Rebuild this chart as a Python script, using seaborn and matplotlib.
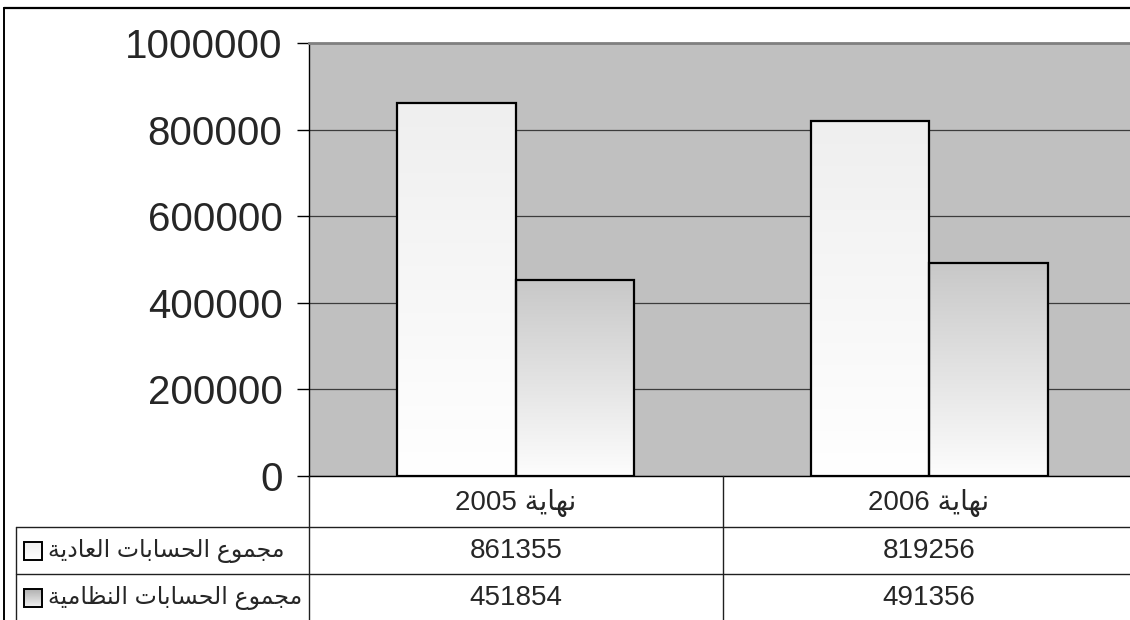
"""Grouped bar chart of account totals with a data table underneath (Arabic labels)."""

import matplotlib.pyplot as plt
import numpy as np
import pandas as pd
import seaborn as sns
from matplotlib.colors import LinearSegmentedColormap
from matplotlib.lines import Line2D
from matplotlib.patches import Rectangle

PERIODS = ["نهاية 2005", "نهاية 2006"]
SERIES = ["مجموع الحسابات العادية", "مجموع الحسابات النظامية"]
REGULAR_TOTALS = [861355, 819256]
SYSTEM_TOTALS = [451854, 491356]
Y_TICKS = [0, 200000, 400000, 600000, 800000, 1000000]

# top colour, bottom colour of the vertical gradient for each series
GRADIENTS = [("#efefef", "#ffffff"), ("#c8c8c8", "#fdfdfd")]

# Arabic presentation forms: isolated, final, initial, medial
FORMS = {
    "ا": ("\uFE8D", "\uFE8E", None, None),
    "ب": ("\uFE8F", "\uFE90", "\uFE91", "\uFE92"),
    "ة": ("\uFE93", "\uFE94", None, None),
    "ت": ("\uFE95", "\uFE96", "\uFE97", "\uFE98"),
    "ج": ("\uFE9D", "\uFE9E", "\uFE9F", "\uFEA0"),
    "ح": ("\uFEA1", "\uFEA2", "\uFEA3", "\uFEA4"),
    "د": ("\uFEA9", "\uFEAA", None, None),
    "س": ("\uFEB1", "\uFEB2", "\uFEB3", "\uFEB4"),
    "ظ": ("\uFEC5", "\uFEC6", "\uFEC7", "\uFEC8"),
    "ع": ("\uFEC9", "\uFECA", "\uFECB", "\uFECC"),
    "ل": ("\uFEDD", "\uFEDE", "\uFEDF", "\uFEE0"),
    "م": ("\uFEE1", "\uFEE2", "\uFEE3", "\uFEE4"),
    "ن": ("\uFEE5", "\uFEE6", "\uFEE7", "\uFEE8"),
    "ه": ("\uFEE9", "\uFEEA", "\uFEEB", "\uFEEC"),
    "و": ("\uFEED", "\uFEEE", None, None),
    "ي": ("\uFEF1", "\uFEF2", "\uFEF3", "\uFEF4"),
}


def shape_word(word: str) -> str:
    out = []
    for i, ch in enumerate(word):
        if ch not in FORMS:
            out.append(ch)
            continue
        prev = word[i - 1] if i > 0 else None
        nxt = word[i + 1] if i + 1 < len(word) else None
        join_prev = prev in FORMS and FORMS[prev][2] is not None
        join_next = nxt in FORMS and FORMS[ch][2] is not None
        iso, fin, ini, med = FORMS[ch]
        if join_prev and join_next:
            out.append(med)
        elif join_prev:
            out.append(fin)
        elif join_next:
            out.append(ini)
        else:
            out.append(iso)
    return "".join(out)


def rtl(text: str) -> str:
    # matplotlib has no bidi/shaping, so lay the words out in visual order by hand
    words = []
    for word in reversed(text.split(" ")):
        if any(ch in FORMS for ch in word):
            words.append(shape_word(word)[::-1])
        else:
            words.append(word)
    return " ".join(words)


def gradient(axis, extent, top, bottom, clip=None, zorder=1.5):
    cmap = LinearSegmentedColormap.from_list("grad", [bottom, top])
    image = axis.imshow(
        np.linspace(0, 1, 256).reshape(-1, 1), cmap=cmap, aspect="auto",
        extent=extent, origin="lower", zorder=zorder, interpolation="bicubic",
    )
    if clip is not None:
        image.set_clip_path(clip)
    return image


sns.set_style("ticks")
plt.rcParams["font.family"] = ["Liberation Sans", "DejaVu Sans"]

W, H = 1130, 620
fig = plt.figure(figsize=(W / 100, H / 100), dpi=100)
fig.patch.set_facecolor("white")

ax = fig.add_axes([309 / W, (H - 476) / H, 827 / W, 433 / H])
table = pd.DataFrame({
    "period": PERIODS * 2,
    "series": [SERIES[0]] * 2 + [SERIES[1]] * 2,
    "value": REGULAR_TOTALS + SYSTEM_TOTALS,
})
sns.barplot(
    data=table, x="period", y="value", hue="series", hue_order=SERIES,
    width=0.572, gap=0, palette=["white", "white"], edgecolor="black",
    linewidth=1.6, legend=False, ax=ax,
)

for container, (top, bottom) in zip(ax.containers, GRADIENTS):
    for bar in container.patches:
        x0, y0 = bar.get_x(), bar.get_y()
        x1, y1 = x0 + bar.get_width(), y0 + bar.get_height()
        gradient(ax, [x0, x1, y0, y1], top, bottom, clip=bar)
        bar.set_facecolor("none")
        bar.set_zorder(2)

ax.set_xlim(-0.5, 1.5)
ax.set_ylim(0, 1000000)
ax.set_facecolor("#c0c0c0")
ax.set_axisbelow(True)
ax.yaxis.grid(True, color="#3c3c3c", linewidth=0.9)
ax.set_yticks(Y_TICKS)
ax.set_yticklabels([str(v) for v in Y_TICKS])
ax.tick_params(axis="y", length=9, width=1, pad=10, labelsize=29, color="black")
ax.tick_params(axis="x", length=0, labelbottom=False)
ax.set_xlabel("")
ax.set_ylabel("")
for side in ["left", "bottom"]:
    ax.spines[side].set_color("black")
    ax.spines[side].set_linewidth(1.0)
ax.spines["top"].set_color("#808080")
ax.spines["top"].set_linewidth(2.0)
ax.spines["right"].set_visible(False)

# overlay in pixel coordinates for the frame and the data table
over = fig.add_axes([0, 0, 1, 1], zorder=5)
over.set_xlim(0, W)
over.set_ylim(H, 0)
over.axis("off")
over.patch.set_alpha(0)

line_kw = dict(color="#202020", linewidth=1.0)
over.add_line(Line2D([4, 4], [8, H], color="black", linewidth=1.4))
over.add_line(Line2D([4, W], [8, 8], color="black", linewidth=1.6))
over.add_line(Line2D([309, 309], [476, H], **line_kw))
over.add_line(Line2D([723, 723], [476, H], **line_kw))
over.add_line(Line2D([16, 16], [527, H], **line_kw))
over.add_line(Line2D([16, W], [527, 527], **line_kw))
over.add_line(Line2D([16, W], [574, 574], **line_kw))

col_centres = [516, 929]
row_centres = [551, 598]
for centre, period in zip(col_centres, PERIODS):
    over.text(centre, 503, rtl(period), ha="center", va="center", fontsize=20)
for row, values in zip(row_centres, [REGULAR_TOTALS, SYSTEM_TOTALS]):
    for centre, value in zip(col_centres, values):
        over.text(centre, row, str(value), ha="center", va="center", fontsize=20)

for row, name, (top, bottom) in zip(row_centres, SERIES, GRADIENTS):
    if top == GRADIENTS[1][0]:
        top, bottom = "#b0b0b0", "#f2f2f2"
    gradient(over, [24, 42, row + 9, row - 9], top, bottom, zorder=5)
    over.add_patch(Rectangle((24, row - 9), 18, 18, facecolor="none",
                             edgecolor="black", linewidth=1.4, zorder=6))
    over.text(48, row, rtl(name), ha="left", va="center", fontsize=17)

over.set_xlim(0, W)
over.set_ylim(H, 0)

fig.savefig("out.png", dpi=100)
